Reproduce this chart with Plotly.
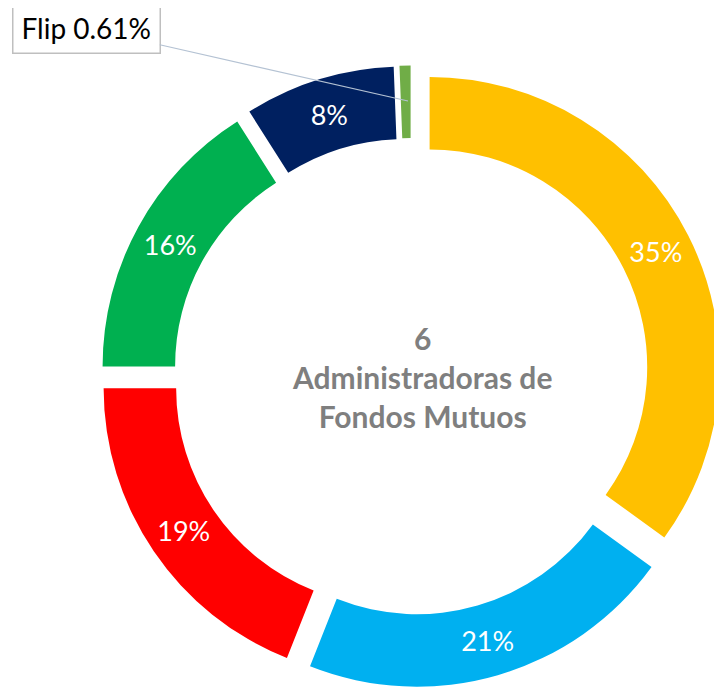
import plotly.graph_objects as go

labels = ["A", "B", "C", "D", "E", "Flip"]
values = [35.0, 21.0, 19.0, 16.0, 8.39, 0.61]
colors = ["#FFC000", "#00B0F0", "#FF0000", "#00B050", "#002060", "#70AD47"]
inside_text = [f"{round(v)}%" for v in values[:-1]] + [""]
center_lines = ["6", "Administradoras de", "Fondos Mutuos"]
flip_label = f"Flip {values[-1]}%"

# page body has an 8px default margin; figure drawn 8px smaller
W, H = 714, 680
FONT = "Lato, 'Open Sans', sans-serif"

fig = go.Figure()
fig.add_trace(go.Pie(
    labels=labels,
    values=values,
    text=inside_text,
    textinfo="text",
    textposition="inside",
    insidetextorientation="horizontal",
    textfont=dict(color="white", size=27, family=FONT),
    marker=dict(colors=colors, line=dict(width=0)),
    hole=0.75,
    pull=0.072,
    sort=False,
    direction="clockwise",
    rotation=0,
    showlegend=False,
    hoverinfo="label+percent",
    domain=dict(x=[92 / W, 1.0], y=[0.0, 1 - 57 / H]),
))

fig.add_annotation(
    x=414 / W, y=1 - 369 / H, xref="paper", yref="paper",
    text="<b>" + "<br>".join(center_lines) + "</b>",
    showarrow=False,
    font=dict(size=30, color="#7F7F7F", family=FONT),
    align="center",
)

fig.add_annotation(
    x=400 / W, y=1 - 93 / H, xref="paper", yref="paper",
    text=flip_label,
    showarrow=True, arrowhead=0, arrowwidth=1.2, arrowcolor="#B4C2D3",
    ax=78 - 400, ay=20 - 93,
    font=dict(size=28, color="black", family=FONT),
    bordercolor="#BFBFBF", borderwidth=1.5, borderpad=8,
    bgcolor="white",
)

fig.update_layout(
    width=W, height=H,
    margin=dict(l=0, r=0, t=0, b=0),
    paper_bgcolor="white",
    plot_bgcolor="white",
)

fig.write_html("out.html")
